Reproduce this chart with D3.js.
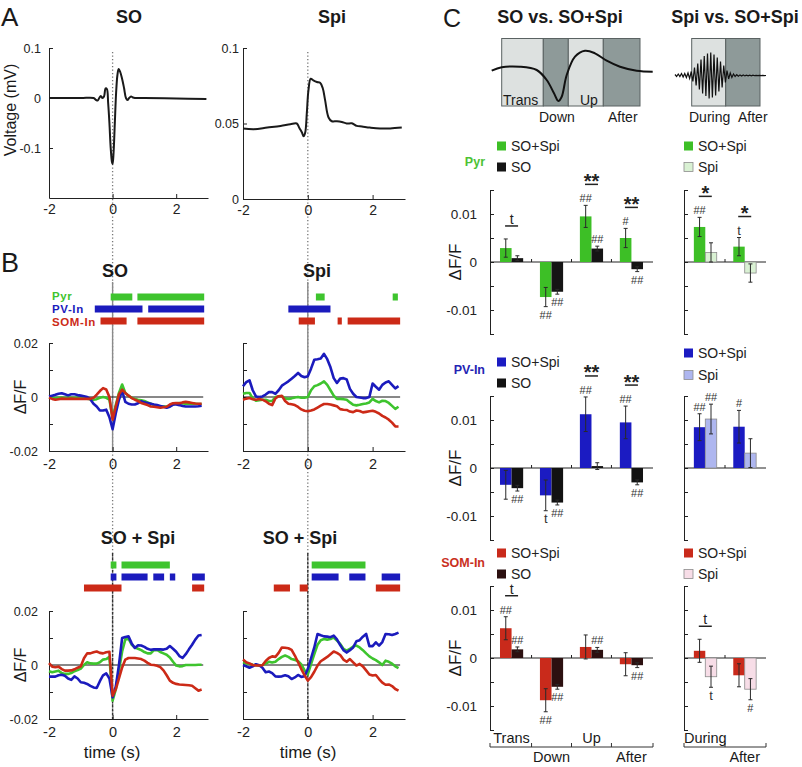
<!DOCTYPE html>
<html><head><meta charset="utf-8">
<script src="https://cdn.jsdelivr.net/npm/d3@7/dist/d3.min.js"></script>
<style>
body{margin:0;background:#fff;}
svg text{font-family:'Liberation Sans',Arial,Helvetica,sans-serif;}
</style></head><body>
<svg id="chart" width="802" height="767" viewBox="0 0 802 767"></svg>
<script>
// ---------------- DATA ----------------
// Panel A: averaged LFP (mV)
const aSoTime  = [-2,-1,-0.6,-0.52,-0.47,-0.42,-0.37,-0.32,-0.27,-0.22,-0.18,-0.14,-0.1,-0.06,-0.02,0,0.03,0.07,0.11,0.15,0.19,0.24,0.3,0.36,0.42,0.47,0.52,0.58,0.64,0.7,0.8,1.0,2.0,2.95];
const aSoVolt  = [0,0,0,-0.004,-0.005,0.0,0.004,0.0,0.003,0.019,0.018,-0.01,-0.05,-0.1,-0.128,-0.132,-0.11,-0.05,0.01,0.045,0.058,0.052,0.038,0.02,0.0,-0.004,0.0,0.003,0.001,0,0,0,-0.001,-0.002];
const aSpiTime = [-2,-1.66,-1.25,-0.84,-0.54,-0.34,-0.26,-0.18,-0.13,-0.08,-0.03,0.02,0.09,0.17,0.28,0.38,0.46,0.53,0.64,0.74,0.9,1.05,1.2,1.36,1.51,1.67,1.92,2.23,2.54,2.9];
const aSpiVolt = [0.0467,0.0462,0.0473,0.0484,0.0495,0.05,0.047,0.044,0.0415,0.044,0.057,0.072,0.0797,0.0786,0.0775,0.077,0.0735,0.066,0.054,0.0515,0.0515,0.051,0.05,0.0501,0.0484,0.048,0.0473,0.0467,0.0467,0.0473];
const aXTicks = [-2,0,2], aXTickLabels = ["-2","0","2"];
const aSoYTicks = [-0.1,0,0.1], aSoYTickLabels = ["-0.1","0","0.1"];
const aSpiYTicks = [0,0.05,0.1], aSpiYTickLabels = ["0","0.05","0.1"];

// Panel B: ΔF/F traces, values in units of 0.001
const bTime = [-2.0,-1.9,-1.8,-1.7,-1.6,-1.5,-1.4,-1.3,-1.2,-1.1,-1.0,-0.9,-0.8,-0.7,-0.6,-0.5,-0.4,-0.3,-0.2,-0.1,0.0,0.1,0.2,0.3,0.4,0.5,0.6,0.7,0.8,0.9,1.0,1.1,1.2,1.3,1.4,1.5,1.6,1.7,1.8,1.9,2.0,2.1,2.2,2.3,2.4,2.5,2.6,2.7,2.8];
const bSOPyr = [0,-0.3,-0.5,-0.3,-0.2,-0.4,-0.2,-0.3,-0.3,-0.2,-0.3,-0.5,-0.6,-0.8,-1.0,-0.8,-0.3,0.0,-0.3,-1.0,-7.8,-3.0,1.5,4.6,1.5,0.5,-0.3,-0.7,-1.0,-1.2,-1.5,-2.0,-2.5,-3.0,-3.3,-3.5,-3.5,-3.5,-3.3,-2.8,-2.3,-2.2,-2.4,-2.5,-2.5,-2.4,-2.5,-2.6,-2.6];
const bSOPV  = [0.2,0.5,0.8,1.2,1.4,1.0,0.6,1.0,1.0,0.7,0.5,0.3,0.0,-0.8,-2.5,-3.5,-5.0,-5.0,-4.7,-7.5,-11.9,-6.0,-1.0,2.3,-1.8,-2.5,-2.8,-2.8,-2.3,-1.6,-2.0,-2.2,-2.5,-2.8,-3.0,-3.3,-3.6,-4.0,-3.6,-2.8,-2.8,-3.0,-3.3,-3.5,-3.5,-3.5,-3.5,-3.4,-3.2];
const bSOSOM = [-0.3,-0.7,-1.0,-0.8,-0.6,-0.7,-0.7,-0.6,-0.7,-0.7,-0.7,-0.7,-0.7,-0.7,-0.3,0.9,2.2,3.3,2.8,0.0,-8.4,-3.5,1.0,2.7,1.5,0.5,-0.4,-1.0,-1.5,-2.2,-2.6,-3.0,-3.5,-3.6,-3.8,-4.0,-3.8,-3.6,-2.8,-2.3,-2.2,-2.3,-2.0,-1.8,-2.0,-2.2,-2.4,-2.5,-2.5];
const bSpiPyr = [1.2,1.5,1.5,-0.5,-1.4,-1.2,-1.0,-1.0,-1.5,-1.5,0.0,0.3,0.3,-0.5,-0.7,-0.5,-0.2,0.0,-0.3,-0.3,0.0,2.5,4.0,4.4,5.0,5.8,4.5,2.5,0.5,-0.7,-0.7,-0.8,-1.0,-2.0,-2.9,-3.1,-2.9,-2.6,-2.4,-2.0,-0.7,-1.5,-2.0,-1.4,-1.5,-2.2,-3.3,-4.4,-3.6];
const bSpiPV  = [4.0,5.5,6.2,2.5,0.2,0.0,0.2,0.9,1.8,1.8,1.2,2.5,4.2,5.0,5.8,6.8,7.8,8.9,7.8,7.3,7.7,10.5,13.8,14.0,14.3,16.0,14.0,11.0,7.0,5.2,6.8,7.0,6.5,3.0,1.2,0.0,-0.2,-0.4,-0.4,0.0,5.0,3.8,2.7,4.5,5.4,5.8,4.5,3.2,4.0];
const bSpiSOM = [-1.0,-0.6,-0.4,-0.8,-1.0,-0.7,-1.0,-1.6,-2.5,-3.0,-0.5,0.3,0.4,-1.5,-2.5,-2.7,-3.0,-3.7,-4.6,-5.1,-5.3,-5.0,-4.6,-3.9,-3.2,-2.6,-2.6,-2.8,-3.1,-3.4,-4.5,-4.7,-4.8,-5.4,-5.6,-5.0,-5.2,-5.7,-5.5,-5.3,-5.1,-5.5,-6.1,-7.0,-7.6,-8.4,-9.5,-10.9,-10.9];
const bSOSpiAPyr = [-2.3,-2.7,-2.4,-2.1,-3.0,-3.3,-3.3,-3.0,-2.3,-1.9,-1.3,0.0,1.0,0.6,0.5,0.5,1.0,2.0,2.2,3.0,-13.2,-9.0,-2.0,5.0,9.5,9.8,7.5,6.5,6.0,5.5,4.8,4.3,4.3,5.5,5.6,4.8,4.3,3.8,2.8,1.2,-0.2,-0.5,-0.4,0.0,0.0,0.0,0.0,0.1,0.1];
const bSOSpiAPV  = [-4.3,-4.3,-4.3,-3.8,-3.6,-4.0,-5.0,-5.5,-4.2,-5.0,-6.4,-6.6,-7.0,-7.7,-8.3,-8.5,-6.0,-3.8,-3.1,-5.0,-12.0,-8.0,0.0,10.0,10.4,10.6,8.0,6.3,7.3,7.2,6.7,6.0,5.6,5.8,5.8,5.8,5.7,6.0,7.0,6.0,4.9,3.3,2.6,4.0,5.8,7.5,9.4,10.9,11.1];
const bSOSpiASOM = [0.7,-0.6,-0.8,-0.6,-1.5,-2.1,-2.1,-2.0,-1.6,-1.0,-0.5,2.5,4.3,4.3,4.7,5.0,4.5,4.3,4.7,4.9,-11.4,-9.0,-5.0,-0.9,2.0,2.6,2.6,2.6,2.4,2.2,1.6,0.8,0.1,0.0,-0.3,-0.8,-2.0,-3.8,-5.8,-6.6,-7.0,-7.2,-7.3,-7.4,-7.5,-7.7,-8.6,-9.5,-9.1];
const bSOSpiBPyr = [1.0,0.6,0.4,0.1,-0.1,-0.2,0.0,0.5,1.2,0.9,1.2,2.2,3.0,3.5,3.0,2.2,1.9,1.4,0.2,-2.0,-3.5,0.3,4.0,7.5,9.2,9.6,9.4,9.6,10.2,9.0,7.8,6.0,5.3,6.0,6.8,7.2,6.5,5.5,4.3,3.2,2.4,1.8,1.0,0.0,1.6,1.2,0.5,-0.5,-1.2];
const bSOSpiBPV  = [0.0,-0.5,-1.0,-0.5,0.3,-0.1,-1.0,-2.7,-2.4,-3.0,-4.2,-4.3,-4.2,-3.8,-4.2,-5.2,-4.6,-3.7,-4.4,-4.2,-1.5,2.5,6.5,11.5,11.0,10.6,10.5,10.3,10.9,9.5,7.4,5.5,4.6,5.5,6.5,8.8,9.2,10.5,11.5,7.0,7.0,8.4,7.2,8.5,11.5,11.4,11.1,11.5,12.0];
const bSOSpiBSOM = [2.0,1.0,0.6,0.0,-0.2,-0.2,-0.1,1.5,2.6,3.2,3.0,4.5,6.5,6.4,6.2,5.6,3.5,1.0,-1.5,-3.8,-5.8,-4.5,-2.5,-0.2,1.4,2.2,3.0,4.0,5.0,4.5,3.7,2.0,1.2,2.2,1.0,-0.2,0.4,-0.5,-2.0,-3.5,-3.9,-3.7,-5.2,-6.5,-7.3,-7.2,-7.8,-8.9,-9.5];
const bYTicks = [-20,-10,0,10,20], bYTickLabels = ["-0.02","","0","","0.02"];
// significance intervals (s)
const sigSOPyr = [[-0.06,0.62],[0.78,2.88]], sigSOPV = [[-0.56,0.94],[1.12,2.88]], sigSOSOM = [[-0.38,0.44],[0.78,2.88]];
const sigSpiPyr = [[0.25,0.52],[2.62,2.78]], sigSpiPV = [[-0.6,0.7]], sigSpiSOM = [[-0.28,0.22],[0.92,1.05],[1.23,2.85]];
const sigSOSpiAPyr = [[-0.06,0.12],[0.28,1.8]], sigSOSpiAPV = [[-0.06,0.12],[0.28,1.1],[1.28,1.62],[1.8,1.97],[2.5,2.9]], sigSOSpiASOM = [[-0.9,0.28],[2.5,2.88]];
const sigSOSpiBPyr = [[0.12,1.78]], sigSOSpiBPV = [[0.12,0.95],[1.28,1.78],[2.28,2.85]], sigSOSpiBSOM = [[-1.05,-0.55],[-0.25,0],[2.1,2.85]];

// Panel C: mean ΔF/F and SEM, units of 0.001
const cGroupsL = ["Trans","Down","Up","After"];
const cGroupsR = ["During","After"];
const pyrSOSpiL = [2.9,-7.3,9.5,5.0],  pyrSOSpiLErr = [1.9,2.0,2.3,2.0];
const pyrSOL    = [0.8,-6.2,2.8,-1.5], pyrSOLErr    = [0.5,0.5,0.5,0.5];
const pyrSOSpiR = [7.3,3.2],  pyrSOSpiRErr = [2.0,1.9];
const pyrSpiR   = [2.0,-2.3], pyrSpiRErr   = [2.0,1.9];
const pvSOSpiL = [-3.5,-5.7,11.2,9.5], pvSOSpiLErr = [3.0,3.2,3.6,3.4];
const pvSOL    = [-4.2,-7.2,0.4,-3.0], pvSOLErr    = [0.6,0.5,0.7,0.5];
const pvSOSpiR = [8.5,8.6],  pvSOSpiRErr = [2.8,3.4];
const pvSpiR   = [10.2,3.1], pvSpiRErr   = [3.1,3.0];
const somSOSpiL = [6.2,-8.8,2.3,-1.3], somSOSpiLErr = [2.4,2.4,2.5,2.4];
const somSOL    = [1.8,-6.0,1.7,-1.5], somSOLErr    = [0.5,0.5,0.5,0.5];
const somSOSpiR = [1.5,-3.6],  somSOSpiRErr = [2.4,2.4];
const somSpiR   = [-3.9,-6.5], somSpiRErr   = [2.2,2.2];
const cYTicks = [-15,-10,-5,0,5,10,15], cYTickLabels = ["","-0.01","","0","","0.01",""];
// annotations: [group, series (0 = SO+Spi, 1 = other), text, side]
const pyrMarksL = [[1,0,"##","below"],[1,1,"##","below"],[2,0,"##","above"],[2,1,"##","above"],[3,0,"#","above"],[3,1,"##","below"]];
const pyrMarksR = [[0,0,"##","above"],[1,0,"t","above"]];
const pvMarksL  = [[0,1,"##","below"],[1,0,"t","below"],[1,1,"##","below"],[2,0,"##","above"],[3,0,"##","above"],[3,1,"##","below"]];
const pvMarksR  = [[0,0,"##","above"],[0,1,"##","above"],[1,0,"#","above"]];
const somMarksL = [[0,0,"##","above"],[0,1,"##","above"],[1,0,"##","below"],[1,1,"##","below"],[2,1,"##","above"],[3,1,"##","below"]];
const somMarksR = [[0,1,"t","below"],[1,1,"#","below"]];
// paired comparisons: [group, text]
const pyrSigL = [[0,"t"],[2,"**"],[3,"**"]], pyrSigR = [[0,"*"],[1,"*"]];
const pvSigL  = [[2,"**"],[3,"**"]], pvSigR = [];
const somSigL = [[0,"t"]], somSigR = [[0,"t"]];

// Schematic traces (illustrative units)
const schemSoT = [0,0.1,0.283,0.45,0.55,0.623,0.666,0.70,0.75,0.833,0.933,1.033,1.15,1.283,1.45,1.61];
const schemSoV = [0,0.34,0.4,0.07,-0.93,-2.26,-3.03,-2.6,-0.43,1.4,2.0,1.74,1.0,0.4,0,-0.1];
const schemSpindle = [1,-1,1.5,-1,2,-1.5,2,-2,2.5,-3,4,-6,8,-10,12,-14,16,-18,19.5,-20.5,22,-23,23,-22,21,-20,18,-16,14,-12,10,-7,5,-3.5,2.5,-2,1.5,-1,0.8,-0.7,0.6,-0.5,0.5,-0.4,0.4,-0.3,0.3,-0.3,0.3,-0.2,0.2,-0.2,0.2,-0.2,0.1,-0.1,0];

// ---------------- DRAWING ----------------
const FONT = "'Liberation Sans',Arial,Helvetica,sans-serif";
const svg = d3.select("#chart");
const GREEN = "#3ec42e", BLUE = "#1b1bbd", RED = "#cc2a17";

function label(x, y, str, o = {}) {
  const t = svg.append("text").attr("x", x).attr("y", y).text(str)
    .attr("font-size", o.size || 14).attr("font-weight", o.weight || "normal")
    .attr("fill", o.fill || "#1a1a1a").attr("text-anchor", o.anchor || "start")
    .attr("dominant-baseline", o.base || "central");
  if (o.spacing) t.attr("letter-spacing", o.spacing);
  if (o.rotate) t.attr("transform", `rotate(-90,${x},${y})`);
  return t;
}
function styleAxis(g, size) {
  g.attr("font-family", FONT).attr("font-size", size);
  g.selectAll("path,line").attr("stroke", "#222").attr("stroke-width", 1);
  g.selectAll("text").attr("fill", "#222");
}

// panel letters
label(1, 17, "A", {size: 26});
label(1, 263, "B", {size: 27});
label(443, 18, "C", {size: 25});

// column x scales for A and B
const xSO  = d3.scaleLinear().domain([-2, 3]).range([49, 208]);
const xSpi = d3.scaleLinear().domain([-2, 3]).range([243, 405]);

// dotted event lines at t = 0
[xSO, xSpi].forEach(x => {
  svg.append("line").attr("x1", x(0)).attr("x2", x(0)).attr("y1", 52).attr("y2", 719)
    .attr("stroke", "#777").attr("stroke-width", 1.3).attr("stroke-dasharray", "1.3,2.2");
});

// ----- Panel A -----
function drawA(x, yDomain, yRange, times, volts, yTicks, yLabels, pad) {
  const y = d3.scaleLinear().domain(yDomain).range(yRange);
  const gx = svg.append("g").attr("transform", `translate(0,${yRange[0]})`)
    .call(d3.axisBottom(x).tickValues(aXTicks).tickFormat((d, i) => aXTickLabels[i]).tickSize(-4).tickSizeOuter(0).tickPadding(6));
  styleAxis(gx, 14);
  const gy = svg.append("g").attr("transform", `translate(${x.range()[0]},0)`)
    .call(d3.axisLeft(y).tickValues(yTicks).tickFormat((d, i) => yLabels[i]).tickSize(-4).tickSizeOuter(0).tickPadding(pad));
  styleAxis(gy, 12.5);
  svg.append("path").datum(d3.zip(times, volts)).attr("fill", "none").attr("stroke", "#1a1a1a").attr("stroke-width", 2)
    .attr("stroke-linejoin", "round")
    .attr("d", d3.line().x(d => x(d[0])).y(d => y(d[1])).curve(d3.curveCatmullRom.alpha(0.5)));
}
drawA(xSO, [-0.2, 0.1], [198, 48], aSoTime, aSoVolt, aSoYTicks, aSoYTickLabels, 8);
drawA(xSpi, [0, 0.1], [199, 48], aSpiTime, aSpiVolt, aSpiYTicks, aSpiYTickLabels, 4);
label(116, 17, "SO", {size: 18, weight: "bold"});
label(318, 17, "Spi", {size: 18, weight: "bold"});
label(10, 110, "Voltage (mV)", {size: 16, anchor: "middle", rotate: true});

// ----- Panel B -----
function drawB(cfg) {
  const x = cfg.x;
  const y = d3.scaleLinear().domain([-20, 20]).range([cfg.bottom, cfg.bottom - 108]);
  svg.append("line").attr("x1", x(0)).attr("x2", x(0)).attr("y1", cfg.lineTop).attr("y2", cfg.bottom)
    .attr("stroke", cfg.lineColor).attr("stroke-width", 1.4).attr("stroke-dasharray", cfg.lineDash);
  const gx = svg.append("g").attr("transform", `translate(0,${cfg.bottom})`)
    .call(d3.axisBottom(x).tickValues(aXTicks).tickFormat((d, i) => aXTickLabels[i]).tickSize(-4).tickSizeOuter(0).tickPadding(8));
  styleAxis(gx, 14.5);
  const gy = svg.append("g").attr("transform", `translate(${x.range()[0]},0)`)
    .call(d3.axisLeft(y).tickValues(bYTicks).tickFormat((d, i) => cfg.yLabels ? bYTickLabels[i] : "").tickSize(-4).tickSizeOuter(0).tickPadding(11));
  styleAxis(gy, 12.5);
  svg.append("line").attr("x1", x.range()[0]).attr("x2", x(2.85)).attr("y1", y(0)).attr("y2", y(0))
    .attr("stroke", "#111").attr("stroke-width", 1);
  const line = d3.line().x((d, i) => x(bTime[i])).y(d => y(d));
  const colors = [GREEN, BLUE, RED];
  [0, 1, 2].forEach(k => {
    svg.append("path").datum(cfg.series[k]).attr("fill", "none").attr("stroke", colors[k])
      .attr("stroke-width", 2.6).attr("stroke-linejoin", "round").attr("d", line);
  });
  cfg.sig.forEach((ivs, k) => {
    ivs.forEach(iv => {
      svg.append("rect").attr("x", x(iv[0])).attr("width", x(iv[1]) - x(iv[0]))
        .attr("y", cfg.barY[k] - 3.5).attr("height", 7).attr("fill", colors[k]);
    });
  });
  label(cfg.titleX, cfg.titleY, cfg.title, {size: 18, weight: "bold", anchor: "middle"});
}
drawB({x: xSO, bottom: 451, lineTop: 282, lineColor: "#8a8a8a", lineDash: null, yLabels: true,
  series: [bSOPyr, bSOPV, bSOSOM], sig: [sigSOPyr, sigSOPV, sigSOSOM], barY: [297, 309, 321],
  title: "SO", titleX: 115, titleY: 271});
drawB({x: xSpi, bottom: 451, lineTop: 282, lineColor: "#8a8a8a", lineDash: null, yLabels: false,
  series: [bSpiPyr, bSpiPV, bSpiSOM], sig: [sigSpiPyr, sigSpiPV, sigSpiSOM], barY: [297, 309, 321],
  title: "Spi", titleX: 317, titleY: 271});
drawB({x: xSO, bottom: 719, lineTop: 553, lineColor: "#333", lineDash: "3,1.2", yLabels: true,
  series: [bSOSpiAPyr, bSOSpiAPV, bSOSpiASOM], sig: [sigSOSpiAPyr, sigSOSpiAPV, sigSOSpiASOM], barY: [565, 577, 588],
  title: "SO + Spi", titleX: 138, titleY: 538});
drawB({x: xSpi, bottom: 719, lineTop: 553, lineColor: "#333", lineDash: "3,1.2", yLabels: false,
  series: [bSOSpiBPyr, bSOSpiBPV, bSOSpiBSOM], sig: [sigSOSpiBPyr, sigSOSpiBPV, sigSOSpiBSOM], barY: [565, 577, 588],
  title: "SO + Spi", titleX: 300, titleY: 538});
label(52, 296, "Pyr", {size: 11.5, weight: "bold", fill: GREEN, spacing: 0.6});
label(52, 309, "PV-In", {size: 11.5, weight: "bold", fill: BLUE, spacing: 0.6});
label(52, 322, "SOM-In", {size: 11.5, weight: "bold", fill: RED, spacing: 0.6});
[[20, 397], [20, 665]].forEach(p => label(p[0], p[1], "ΔF/F", {size: 16, anchor: "middle", rotate: true}));
label(112, 752, "time (s)", {size: 17, anchor: "middle"});
label(308, 752, "time (s)", {size: 17, anchor: "middle"});

// ----- Panel C -----
label(560, 17, "SO vs. SO+Spi", {size: 18, weight: "bold", anchor: "middle"});
label(735, 17, "Spi vs. SO+Spi", {size: 18, weight: "bold", anchor: "middle"});

const LIGHT = "#dde1e0", DARK = "#8e9a99";
[[501.7, 543.3, LIGHT], [543.3, 568.3, DARK], [568.3, 603.3, LIGHT], [603.3, 640, DARK],
 [691.7, 725.7, LIGHT], [725.7, 760, DARK]].forEach(s => {
  svg.append("rect").attr("x", s[0]).attr("y", 38.5).attr("width", s[1] - s[0]).attr("height", 67.5)
    .attr("fill", s[2]).attr("stroke", "#5a6262").attr("stroke-width", 1);
});
const sxSO = d3.scaleLinear().domain([0, 1.61]).range([491.7, 652.7]);
const sySO = d3.scaleLinear().domain([0, 1]).range([70.7, 60.7]);
svg.append("path").datum(d3.zip(schemSoT, schemSoV)).attr("fill", "none").attr("stroke", "#111").attr("stroke-width", 2)
  .attr("d", d3.line().x(d => sxSO(d[0])).y(d => sySO(d[1])).curve(d3.curveCatmullRom.alpha(0.5)));
const sxSp = d3.scaleLinear().domain([0, schemSpindle.length - 1]).range([675, 766]);
const sySp = d3.scaleLinear().domain([0, 1]).range([75.5, 74.5]);
svg.append("path").datum(schemSpindle).attr("fill", "none").attr("stroke", "#111").attr("stroke-width", 1.2)
  .attr("d", d3.line().x((d, i) => sxSp(i)).y(d => sySp(d)));
label(503, 100, "Trans", {size: 14});
label(580, 100, "Up", {size: 14});
label(539, 117, "Down", {size: 14});
label(608, 117, "After", {size: 14});
label(689, 117, "During", {size: 14});
label(738, 117, "After", {size: 14});

function drawC(cfg) {
  const y = d3.scaleLinear().domain([-15, 15]).range([cfg.zero + 72, cfg.zero - 72]);
  label(485, cfg.nameY, cfg.name, {size: 12.5, weight: "bold", fill: cfg.nameColor, anchor: "end"});
  label(455, cfg.zero, "ΔF/F", {size: 17, anchor: "middle", rotate: true});
  const fills = [cfg.fillA, cfg.fillB];
  cfg.sides.forEach((side, si) => {
    const x0 = d3.scaleBand().domain(side.groups).range(side.range).paddingInner(0.42).paddingOuter(0.25);
    const x1 = d3.scaleBand().domain([0, 1]).range([0, x0.bandwidth()]);
    const gy = svg.append("g").attr("transform", `translate(${side.range[0]},0)`)
      .call(d3.axisLeft(y).tickValues(cYTicks).tickFormat((d, i) => si === 0 ? cYTickLabels[i] : "").tickSize(-4).tickSizeOuter(0).tickPadding(13));
    styleAxis(gy, 13.5);
    svg.append("line").attr("x1", side.range[0]).attr("x2", side.range[1]).attr("y1", y(0)).attr("y2", y(0))
      .attr("stroke", "#222").attr("stroke-width", 1);
    const step = x0.step(), bw = x0.bandwidth();
    side.groups.slice(1).forEach(g => {
      const bx = x0(g) - (step - bw) / 2;
      svg.append("line").attr("x1", bx).attr("x2", bx).attr("y1", y(0)).attr("y2", y(0) - 3).attr("stroke", "#222");
    });
    const fillsSide = si === 0 ? fills : [cfg.fillA, cfg.fillSpi];
    side.means.forEach((vals, k) => {
      vals.forEach((v, gi) => {
        const g = side.groups[gi];
        const bxx = x0(g) + x1(k);
        svg.append("rect").attr("x", bxx).attr("width", x1.bandwidth())
          .attr("y", Math.min(y(v), y(0))).attr("height", Math.abs(y(v) - y(0)))
          .attr("fill", fillsSide[k])
          .attr("stroke", (si === 1 && k === 1) ? "#8c8c8c" : "none").attr("stroke-width", 0.8);
        const e = side.errs[k][gi], cx = bxx + x1.bandwidth() / 2;
        svg.append("line").attr("x1", cx).attr("x2", cx).attr("y1", y(v - e)).attr("y2", y(v + e)).attr("stroke", "#2a2a2a").attr("stroke-width", 1);
        [v - e, v + e].forEach(w => svg.append("line").attr("x1", cx - 2).attr("x2", cx + 2).attr("y1", y(w)).attr("y2", y(w)).attr("stroke", "#2a2a2a").attr("stroke-width", 1));
      });
    });
    side.marks.forEach(m => {
      const [gi, k, str, pos] = m;
      const v = side.means[k][gi], e = side.errs[k][gi];
      const cx = x0(side.groups[gi]) + x1(k) + x1.bandwidth() / 2;
      const yy = pos === "above" ? y(v + e) - 7 : y(v - e) + 8;
      label(cx, yy, str, {size: str === "t" ? 13 : 11, anchor: "middle", fill: "#333"});
    });
    side.sig.forEach(s => {
      const [gi, str] = s;
      const g = side.groups[gi];
      const cx = x0(g) + bw / 2;
      const top = d3.max([0, 1], k => side.means[k][gi] + side.errs[k][gi]);
      const hasAbove = side.marks.some(m => m[0] === gi && m[3] === "above");
      const ly = y(top) - (hasAbove ? 21 : 13);
      svg.append("line").attr("x1", cx - 6.5).attr("x2", cx + 6.5).attr("y1", ly).attr("y2", ly).attr("stroke", "#222").attr("stroke-width", 1.5);
      if (str === "t") label(cx, ly - 7, "t", {size: 14, anchor: "middle", fill: "#222"});
      else label(cx, ly + 3.5, str, {size: 20, weight: "bold", anchor: "middle", fill: "#222", base: "alphabetic"});
    });
    const legFills = si === 0 ? fills : [cfg.fillA, cfg.fillSpi];
    const legText = si === 0 ? ["SO+Spi", "SO"] : ["SO+Spi", "Spi"];
    const lx = si === 0 ? 497 : 684;
    side.legY.forEach((ly, k) => {
      svg.append("rect").attr("x", lx).attr("y", ly - 4.5).attr("width", 9).attr("height", 9).attr("fill", legFills[k])
        .attr("stroke", (si === 1 && k === 1) ? "#8c8c8c" : "none").attr("stroke-width", 0.8);
      label(lx + 14, ly, legText[k], {size: 14, fill: "#222"});
    });
    if (cfg.cats) {
      const by = 747;
      svg.append("line").attr("x1", side.range[0]).attr("x2", side.range[1]).attr("y1", by).attr("y2", by).attr("stroke", "#333");
      const ticksX = [side.range[0], ...side.groups.slice(1).map(g => x0(g) - (step - bw) / 2), side.range[1]];
      ticksX.forEach(tx => svg.append("line").attr("x1", tx).attr("x2", tx).attr("y1", by).attr("y2", by - 4).attr("stroke", "#333"));
      side.groups.forEach((g, gi) => label(x0(g) + bw / 2, gi % 2 === 0 ? 738 : 757, g, {size: 14.5, anchor: "middle", fill: "#1a1a1a"}));
    }
  });
}

drawC({name: "Pyr", nameColor: "#4cc234", nameY: 162, zero: 262, fillA: "#3dbf26", fillB: "#151515", fillSpi: "#d9f1d3", cats: false,
  sides: [
    {groups: cGroupsL, range: [490, 653], means: [pyrSOSpiL, pyrSOL], errs: [pyrSOSpiLErr, pyrSOLErr], marks: pyrMarksL, sig: pyrSigL, legY: [146, 167]},
    {groups: cGroupsR, range: [684, 766], means: [pyrSOSpiR, pyrSpiR], errs: [pyrSOSpiRErr, pyrSpiRErr], marks: pyrMarksR, sig: pyrSigR, legY: [146, 167]}
  ]});
drawC({name: "PV-In", nameColor: "#2424b4", nameY: 370, zero: 468, fillA: "#1b1bc2", fillB: "#121212", fillSpi: "#aeb6ef", cats: false,
  sides: [
    {groups: cGroupsL, range: [490, 653], means: [pvSOSpiL, pvSOL], errs: [pvSOSpiLErr, pvSOLErr], marks: pvMarksL, sig: pvSigL, legY: [362, 383]},
    {groups: cGroupsR, range: [684, 766], means: [pvSOSpiR, pvSpiR], errs: [pvSOSpiRErr, pvSpiRErr], marks: pvMarksR, sig: pvSigR, legY: [353, 375]}
  ]});
drawC({name: "SOM-In", nameColor: "#c9301e", nameY: 563, zero: 658, fillA: "#c92a1b", fillB: "#2c1010", fillSpi: "#f7dde7", cats: true,
  sides: [
    {groups: cGroupsL, range: [490, 653], means: [somSOSpiL, somSOL], errs: [somSOSpiLErr, somSOLErr], marks: somMarksL, sig: somSigL, legY: [553, 574]},
    {groups: cGroupsR, range: [684, 766], means: [somSOSpiR, somSpiR], errs: [somSOSpiRErr, somSpiRErr], marks: somMarksR, sig: somSigR, legY: [553, 574]}
  ]});
</script>
</body></html>
